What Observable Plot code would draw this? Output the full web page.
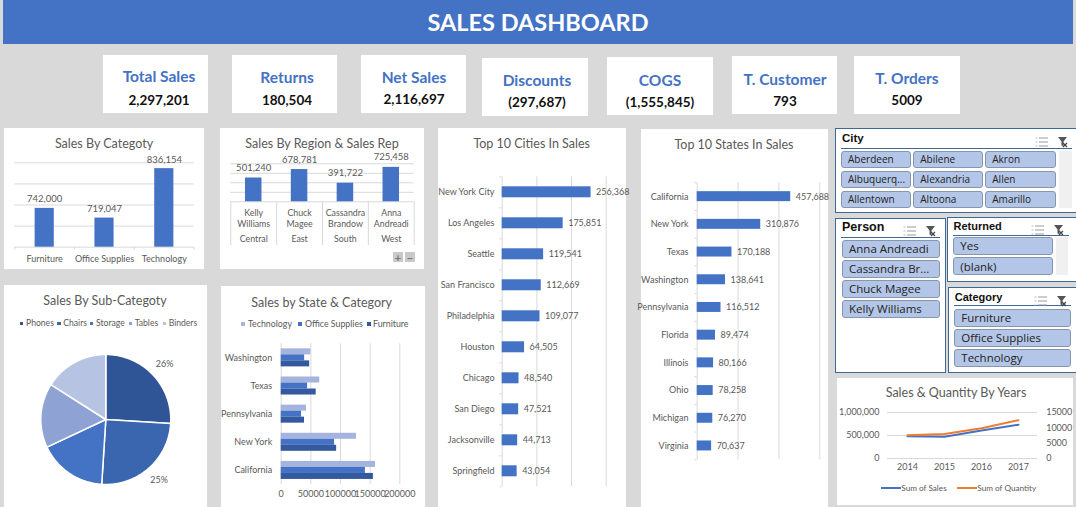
<!DOCTYPE html>
<html><head><meta charset="utf-8">
<script src="https://cdn.jsdelivr.net/npm/d3@7"></script>
<script src="https://cdn.jsdelivr.net/npm/@observablehq/plot@0.6"></script>
<style>
html,body{margin:0;padding:0;background:#d9d9d9;}
#root{position:relative;width:1076px;height:507px;overflow:hidden;background:#d9d9d9;font-family:Lato,sans-serif;}
#root>*{position:absolute;}
.c{transform:translate(-50%,-50%);white-space:nowrap;line-height:1;}
.l{transform:translateY(-50%);white-space:nowrap;line-height:1;}
.card{background:#fff;}
.slicer{background:#fff;border:1px solid #3f6797;box-sizing:border-box;}
.btn{background:#b4c6e7;border:1px solid #8596ae;border-radius:3px;box-sizing:border-box;color:#222;font-family:"Open Sans",sans-serif;display:flex;align-items:center;white-space:nowrap;overflow:hidden;}
svg{overflow:visible;}
</style></head><body><div id="root"></div>
<script>
const blue="#4472c4", grid="#d9d9d9", ink="#595959";
const kpiNames=["Total Sales","Returns","Net Sales","Discounts","COGS","T. Customer","T. Orders"];
const kpiValues=["2,297,201","180,504","2,116,697","(297,687)","(1,555,845)","793","5009"];
const categories=["Furniture","Office Supplies","Technology"];
const categorySales=[742000,719047,836154];
const reps=["Kelly Williams","Chuck Magee","Cassandra Brandow","Anna Andreadi"];
const regions=["Central","East","South","West"];
const regionSales=[501240,678781,391722,725458];
const subCats=["Phones","Chairs","Storage","Tables","Binders"];
const subShares=[26,25,17,16,16];
const subColors=["#2f5597","#3a66b0","#4472c4","#8fa2d4","#b7c3e2"];
const stateCatStates=["Washington","Texas","Pennsylvania","New York","California"];
const stateCatSeries=["Technology","Office Supplies","Furniture"];
const stateCatColors=["#a5b4de","#4472c4","#34599f"];
const stateTech=[50000,65000,42700,127000,159000];
const stateOffice=[39500,44500,34300,90000,142000];
const stateFurn=[48000,59000,39300,93500,155500];
const cities=["New York City","Los Angeles","Seattle","San Francisco","Philadelphia","Houston","Chicago","San Diego","Jacksonville","Springfield"];
const citySales=[256368,175851,119541,112669,109077,64505,48540,47521,44713,43054];
const states=["California","New York","Texas","Washington","Pennsylvania","Florida","Illinois","Ohio","Michigan","Virginia"];
const stateSales=[457688,310876,170188,138641,116512,89474,80166,78258,76270,70637];
const years=["2014","2015","2016","2017"];
const yearSales=[484247,470533,609206,733215];
const yearQty=[7581,7979,9837,12476];
const citySlicer=["Aberdeen","Abilene","Akron","Albuquerq...","Alexandria","Allen","Allentown","Altoona","Amarillo"];
const personSlicer=["Anna Andreadi","Cassandra Br...","Chuck Magee","Kelly Williams"];
const returnedSlicer=["Yes","(blank)"];
const categorySlicer=["Furniture","Office Supplies","Technology"];

const root=document.getElementById("root");
function el(cls,css,html){const d=document.createElement("div");d.className=cls;d.style.cssText=css;if(html!=null)d.textContent=html;root.appendChild(d);return d;}
function box(cls,x0,y0,x1,y1,extra=""){return el(cls,`left:${x0}px;top:${y0}px;width:${x1-x0}px;height:${y1-y0}px;${extra}`);}
function centre(t,x,y,css){return el("c",`left:${x}px;top:${y}px;${css}`,t);}
function left(t,x,y,css){return el("l",`left:${x}px;top:${y}px;${css}`,t);}
function title(t,x,y){centre(t,x,y,`font-size:12.5px;color:${ink};`);}
function place(plot,x,y){plot.style.left=x+"px";plot.style.top=y+"px";plot.style.position="absolute";root.appendChild(plot);}
const st=(fs)=>({background:"transparent",color:ink,fontFamily:"Lato,sans-serif",fontSize:fs+"px"});

// header
box("",3,0,1073,44,`background:${blue};`);
centre("SALES DASHBOARD",538,23,"color:#fff;font-weight:700;font-size:23.5px;");

// KPI cards
const kpiBoxes=[[103,55,208,113,159,77,101],[232,55,337,113,287,78,101],[361,55,466,113,414,78,100],[482,58,588,116,537,81,103],[607,57,713,115,660,81,103],[732,56,837,114,785,80,102],[854,56,960,114,907,79,101]];
kpiBoxes.forEach((b,i)=>{
  box("card",b[0],b[1],b[2],b[3]);
  centre(kpiNames[i],b[4],b[5],`color:${blue};font-weight:700;font-size:15.5px;`);
  centre(kpiValues[i],b[4],b[6],"color:#111;font-weight:700;font-size:13.5px;");
});

// Sales by category
box("card",4,128,204,269);
title("Sales By Categoty",104,144);
{
  const rows=categories.map((c,i)=>({c,v:categorySales[i]}));
  const yMin=650000,yMax=850000,ph=84.4,W=179.4,step=W/3;
  const down=3*(yMax-yMin)/ph;
  place(Plot.plot({width:200,height:141,marginLeft:10.3,marginRight:10.3,marginTop:34.3,marginBottom:22.3,style:st(9),
    x:{domain:categories,paddingInner:.68,paddingOuter:.34,round:false,tickSize:0,tickPadding:8,label:null},
    y:{domain:[yMin,yMax],axis:null},
    marks:[
      Plot.ruleY(d3.range(yMin,yMax+1,50000),{stroke:grid}),
      Plot.ruleX(categories,{x:d=>d,dx:step/2,y1:yMin,y2:yMin-down,stroke:grid}),
      Plot.ruleX(categories.slice(0,1),{x:d=>d,dx:-step/2,y1:yMin,y2:yMin-down,stroke:grid}),
      Plot.barY(rows,{x:"c",y1:()=>yMin,y2:"v",fill:blue}),
      Plot.text(rows,{x:"c",y:"v",text:d=>d3.format(",")(d.v),dy:-9,fontSize:9.5})
    ]}),4,128);
}

// Sales by region & rep
box("card",220,128,424,269);
title("Sales By Region & Sales Rep",322,144);
{
  const rows=reps.map((r,i)=>({r,g:regions[i],v:regionSales[i]}));
  const W=183.4,step=W/4,ph=38,yMax=800000,ext=43.7*yMax/ph;
  place(Plot.plot({width:204,height:141,marginLeft:10.3,marginRight:10.3,marginTop:35.3,marginBottom:67.7,style:st(9),
    x:{domain:reps,paddingInner:.64,paddingOuter:.32,round:false,axis:null},
    y:{domain:[0,yMax],axis:null},
    marks:[
      Plot.ruleY(d3.range(0,yMax+1,200000),{stroke:grid}),
      Plot.ruleX(reps,{x:d=>d,dx:step/2,y1:0,y2:-ext,stroke:grid}),
      Plot.ruleX(reps.slice(0,1),{x:d=>d,dx:-step/2,y1:0,y2:-ext,stroke:grid}),
      Plot.barY(rows,{x:"r",y:"v",fill:blue}),
      Plot.text(rows,{x:"r",y:"v",text:d=>d3.format(",")(d.v),dy:-10,fontSize:9.5}),
      Plot.text(rows,{x:"r",y:()=>0,text:d=>d.r.replace(" ","\n"),dy:16.2,lineHeight:1.25,fontSize:8.8}),
      Plot.text(rows,{x:"r",y:()=>0,text:"g",dy:37.7,fontSize:8.8})
    ]}),220,128);
  const ctl="color:#777;font-size:11px;font-weight:700;background:#c9c9c9;display:flex;align-items:center;justify-content:center;line-height:1;";
  box("",393,252,403,262,ctl).textContent="+";
  box("",405,252,415,262,ctl).textContent="\u2212";
}

// Pie
box("card",4,285,207,507);
title("Sales By Sub-Categoty",105,301);
{
  const total=d3.sum(subShares);
  const pt=(a,r)=>[r*Math.sin(a),-r*Math.cos(a)];
  let acc=0;
  const slices=subCats.map((n,i)=>{
    const a0=acc/total*2*Math.PI; acc+=subShares[i]; const a1=acc/total*2*Math.PI;
    const ring=[[0,0]];
    const k=Math.max(8,Math.ceil((a1-a0)*60));
    d3.range(k+1).forEach(j=>ring.push(pt(a0+(a1-a0)*j/k,1)));
    ring.push([0,0]);
    const m=pt((a0+a1)/2,1.24);
    return {n,share:subShares[i],ring,lx:m[0],ly:m[1]};
  });
  const feats=slices.map(s=>({type:"Feature",properties:{name:s.n},geometry:{type:"Polygon",coordinates:[s.ring]}}));
  const outline={type:"Polygon",coordinates:[d3.range(0,361,3).map(d=>pt(d*Math.PI/180,1))]};
  place(Plot.plot({width:203,height:222,marginLeft:36.3,marginRight:36.7,marginTop:69,marginBottom:23,style:st(9),
    projection:{type:"identity",domain:outline},
    color:{domain:subCats,range:subColors},
    marks:[
      Plot.geo(feats,{fill:d=>d.properties.name,stroke:"#fff",strokeWidth:1.5}),
      Plot.text(slices,{x:"lx",y:"ly",text:d=>d.share+"%",fontSize:9})
    ]}),4,285);
  const pos=[[20,26],[57.3,63.3],[90,96],[128.7,134.7],[162.7,168.7]];
  subCats.forEach((n,i)=>{
    box("",pos[i][0],321.5,pos[i][0]+3.4,324.9,`background:${subColors[i]};`);
    left(n,pos[i][1],323.3,`font-size:8.6px;color:${ink};`);
  });
}

// State & category
box("card",221,286,425,507);
title("Sales by State & Category",321.7,303);
{
  const seriesVals=[stateTech,stateOffice,stateFurn];
  const rows=stateCatSeries.map((s,k)=>stateCatStates.map((g,i)=>({s,g,v:seriesVals[k][i]})));
  place(Plot.plot({width:204,height:221,marginLeft:59.7,marginRight:25.7,marginTop:57.3,marginBottom:23,style:st(9),
    x:{domain:[0,200000],ticks:[0,50000,100000,150000,200000],tickSize:0,tickPadding:6,label:null,tickFormat:d=>String(d)},
    y:{domain:stateCatStates,paddingInner:.786,paddingOuter:.393,round:false,tickSize:0,tickPadding:9,label:null},
    color:{domain:stateCatSeries,range:stateCatColors},
    marks:[
      Plot.ruleX([0,50000,100000,150000,200000],{stroke:grid}),
      ...rows.map((r,k)=>Plot.barX(r,{x:"v",y:"g",fill:"s",dy:(k-1)*6}))
    ]}),221,286);
  const pos=[[241,248],[298,305],[366.7,373]];
  stateCatSeries.forEach((n,i)=>{
    box("",pos[i][0],322,pos[i][0]+4,326,`background:${stateCatColors[i]};`);
    left(n,pos[i][1],324,`font-size:8.8px;color:${ink};`);
  });
}

// Top N helper
function topN(names,vals,xMax,xStep,cfg){
  const rows=names.map((n,i)=>({n,v:vals[i]}));
  const H=cfg.height-cfg.marginTop-cfg.marginBottom,bandH=H/names.length;
  const plotW=cfg.width-cfg.marginLeft-cfg.marginRight;
  const tick=2.4*xMax/plotW;
  return Plot.plot({...cfg,style:st(9),
    x:{domain:[0,xMax],axis:null},
    y:{domain:names,paddingInner:cfg.pad,paddingOuter:cfg.pad/2,round:false,tickSize:0,tickPadding:cfg.tp,label:null},
    marks:[
      Plot.ruleX(d3.range(0,xMax+1,xStep),{stroke:grid}),
      Plot.ruleY(names,{y:d=>d,dy:bandH/2,x1:0,x2:-tick,stroke:grid}),
      Plot.ruleY(names.slice(0,1),{y:d=>d,dy:-bandH/2,x1:0,x2:-tick,stroke:grid}),
      Plot.barX(rows,{x:"v",y:"n",fill:blue}),
      Plot.text(rows,{x:"v",y:"n",text:d=>d3.format(",")(d.v),textAnchor:"start",dx:5,fontSize:9})
    ]});
}
box("card",438,128,626,507);
title("Top 10 Cities In Sales",531.7,144);
place(topN(cities,citySales,300000,100000,{width:188,height:379,marginLeft:63.7,marginRight:20.3,marginTop:48.3,marginBottom:20.7,pad:.645,tp:7.7}),438,128);
box("card",641,129,828,507);
title("Top 10 States In Sales",734,145);
place(topN(states,stateSales,600000,200000,{width:187,height:378,marginLeft:55.7,marginRight:8.7,marginTop:53.3,marginBottom:47.7,pad:.64,tp:8.7}),641,129);

// Years
box("card",837.3,378.3,1072.7,505);
title("Sales & Quantity By Years",956,393.3);
{
  const k=1000000/15000;
  const sales=years.map((y,i)=>({y,v:yearSales[i]}));
  const qty=years.map((y,i)=>({y,v:yearQty[i]*k}));
  place(Plot.plot({width:235.4,height:126.7,marginLeft:50,marginRight:35.4,marginTop:34,marginBottom:46.7,style:st(9),
    x:{type:"point",domain:years,padding:.5,tickSize:0,tickPadding:5,label:null},
    y:{domain:[0,1000000],axis:null},
    marks:[
      Plot.ruleY([0,500000,1000000],{stroke:grid}),
      Plot.axisY([0,500000,1000000],{anchor:"left",tickSize:0,tickPadding:8,label:null,tickFormat:d3.format(",")}),
      Plot.axisY([0,5000,10000,15000].map(q=>q*k),{anchor:"right",tickSize:0,tickPadding:8.7,label:null,textAnchor:"start",tickFormat:v=>String(Math.round(v/k))}),
      Plot.line(sales,{x:"y",y:"v",stroke:blue,strokeWidth:2}),
      Plot.line(qty,{x:"y",y:"v",stroke:"#ed7d31",strokeWidth:2})
    ]}),837.3,378.3);
  box("",880.7,487,900.7,489,`background:${blue};`);
  left("Sum of Sales",901.3,488,`font-size:8.2px;color:${ink};`);
  box("",956.7,487,976.7,489,"background:#ed7d31;");
  left("Sum of Quantity",977.3,488,`font-size:8.2px;color:${ink};`);
}

// Slicers
const iconSvg=`<svg width="33" height="12" viewBox="0 0 33 12" xmlns="http://www.w3.org/2000/svg"><g stroke="#9a9a9a" stroke-width="1"><path d="M0.5 2h2M0.5 6h2M0.5 10h2" stroke="#bbb"/><path d="M4 2h9M4 6h9M4 10h9"/></g><path d="M23 1h9l-3.5 4.5v5l-2-1v-4z" fill="#555"/><path d="M28 7l4 4M32 7l-4 4" stroke="#444" stroke-width="1.2"/></svg>`;
function slicer(name,bx,fs,tx,ty,ulx0,ulx1,uly,ix,iy){
  box("slicer",bx[0],bx[1],bx[2],bx[3]);
  left(name,tx,ty,`font-family:'Liberation Sans',sans-serif;font-weight:700;font-size:${fs}px;color:#111;`);
  box("",ulx0,uly,ulx1,uly+1,"background:#3f6797;");
  const ic=el("","left:"+ix+"px;top:"+iy+"px;");ic.innerHTML=iconSvg;
}
function btn(t,x0,y0,x1,y1,fs,pad){
  const b=box("btn",x0,y0,x1,y1,`font-size:${fs}px;padding-left:${pad}px;`);b.textContent=t;
}
slicer("City",[835,128,1077,213],11.5,842,138.5,841,1072,147.5,1035,132);
{
  const xs=[[841,910.7],[913.3,982.7],[985.3,1056]],ys=[[150.7,167.7],[170.7,187.7],[190.5,207.7]];
  citySlicer.forEach((t,i)=>btn(t,xs[i%3][0],ys[Math.floor(i/3)][0],xs[i%3][1],ys[Math.floor(i/3)][1],10,6));
  box("",1059,150.7,1072.3,207.7,"background:#f0f0f0;");
}
slicer("Person",[835,217.7,946,373],12.5,842,227,841,940,236.5,903,221);
personSlicer.forEach((t,i)=>btn(t,842,240.3+i*20,940,257.7+i*20,11.5,6));
slicer("Returned",[947.3,216.7,1077,281.7],11,953.5,226,953.3,1069,235,1031,220);
returnedSlicer.forEach((t,i)=>btn(t,953.3,237+i*20.3,1052.7,254.7+i*20.3,11.5,6));
box("",1056,237,1068.3,275,"background:#f0f0f0;");
slicer("Category",[948.3,286.7,1077,373.3],11,954.7,296.7,954,1071,305,1034,291);
categorySlicer.forEach((t,i)=>btn(t,954.3,309.3+i*20,1070.7,326.7+i*20,11.5,6));
</script></body></html>
